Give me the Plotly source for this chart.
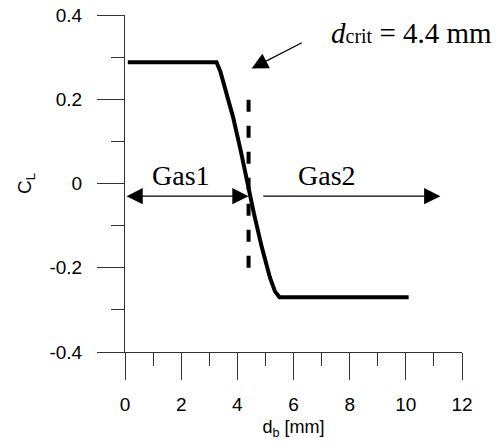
import plotly.graph_objects as go

# Data
db = [0.1, 3.26, 3.4, 3.52, 3.85, 4.12, 4.33, 4.59, 4.87, 5.16, 5.34, 5.5, 10.1]
cl = [0.288, 0.288, 0.265, 0.237, 0.157, 0.078, 0.007, -0.071, -0.151, -0.223, -0.256, -0.27, -0.27]

d_crit = 4.4
crit_y = [-0.2, 0.2]

x_ticks = [0, 2, 4, 6, 8, 10, 12]
y_ticks = [-0.4, -0.2, 0, 0.2, 0.4]
y_tick_text = ["-0.4", "-0.2", "0", "0.2", "0.4"]

arrow_y = -0.03
gas1_range = [0, 4.4]
gas2_range = [4.87, 11.23]

AX = "#333333"
SANS = "Liberation Sans, Arial, sans-serif"
SERIF = "Liberation Serif, Times New Roman, serif"

fig = go.Figure()
fig.add_trace(go.Scatter(x=db, y=cl, mode="lines",
                         line=dict(color="black", width=4), showlegend=False,
                         hoverinfo="skip"))
fig.add_trace(go.Scatter(x=[d_crit, d_crit], y=crit_y, mode="lines",
                         line=dict(color="black", width=4, dash="12px,14px"),
                         showlegend=False, hoverinfo="skip"))

ann = []
# Gas1 double arrow
ann.append(dict(x=gas1_range[1], y=arrow_y, ax=gas1_range[0], ay=arrow_y,
                xref="x", yref="y", axref="x", ayref="y", text="",
                showarrow=True, arrowhead=2, arrowsize=2.5, arrowwidth=1.3,
                arrowside="end+start", startarrowhead=2, startarrowsize=2.5,
                arrowcolor="black", standoff=0, startstandoff=0))
# Gas2 arrow
ann.append(dict(x=gas2_range[1], y=arrow_y, ax=gas2_range[0], ay=arrow_y,
                xref="x", yref="y", axref="x", ayref="y", text="",
                showarrow=True, arrowhead=2, arrowsize=2.5, arrowwidth=1.3,
                arrowcolor="black", standoff=0))
# d_crit arrow
ann.append(dict(x=4.51, y=0.273, ax=6.35, ay=0.336,
                xref="x", yref="y", axref="x", ayref="y", text="",
                showarrow=True, arrowhead=2, arrowsize=2.5, arrowwidth=1.3,
                arrowcolor="black", standoff=0))
# texts
ann.append(dict(x=2.0, y=0.02, xref="x", yref="y", text="Gas1", showarrow=False,
                font=dict(family=SERIF, size=28, color="black"), yanchor="middle"))
ann.append(dict(x=7.2, y=0.02, xref="x", yref="y", text="Gas2", showarrow=False,
                font=dict(family=SERIF, size=28, color="black"), yanchor="middle"))
ann.append(dict(x=10.2, y=0.358, xref="x", yref="y",
                text="<i>d</i><span style='font-size:20px'>crit</span> = 4.4 mm",
                showarrow=False, font=dict(family=SERIF, size=29, color="black"),
                yanchor="middle"))

fig.update_layout(
    width=499, height=447,
    margin=dict(l=125, r=37, t=15, b=95, autoexpand=False),
    paper_bgcolor="white", plot_bgcolor="white",
    annotations=ann,
    xaxis=dict(range=[0, 12], tickvals=x_ticks, showgrid=False, zeroline=False,
               showline=True, linecolor=AX, linewidth=1,
               ticks="outside", ticklen=27, tickwidth=1, tickcolor=AX,
               ticklabelstandoff=8,
               minor=dict(dtick=1, ticks="outside", ticklen=13, tickwidth=1,
                          tickcolor=AX, showgrid=False),
               tickfont=dict(family=SANS, size=19, color="black"),
               title=dict(text="d<sub>b</sub> [mm]", standoff=6,
                          font=dict(family=SANS, size=18, color="black"))),
    yaxis=dict(range=[-0.4, 0.4], tickvals=y_ticks, ticktext=y_tick_text,
               showgrid=False, zeroline=False,
               showline=True, linecolor=AX, linewidth=1,
               ticks="outside", ticklen=27, tickwidth=1, tickcolor=AX,
               ticklabelstandoff=11,
               minor=dict(dtick=0.1, ticks="outside", ticklen=13, tickwidth=1,
                          tickcolor=AX, showgrid=False),
               tickfont=dict(family=SANS, size=19, color="black"),
               title=dict(text="C<sub>L</sub>", standoff=12,
                          font=dict(family=SANS, size=19, color="black"))),
)

fig.write_html("out.html")
